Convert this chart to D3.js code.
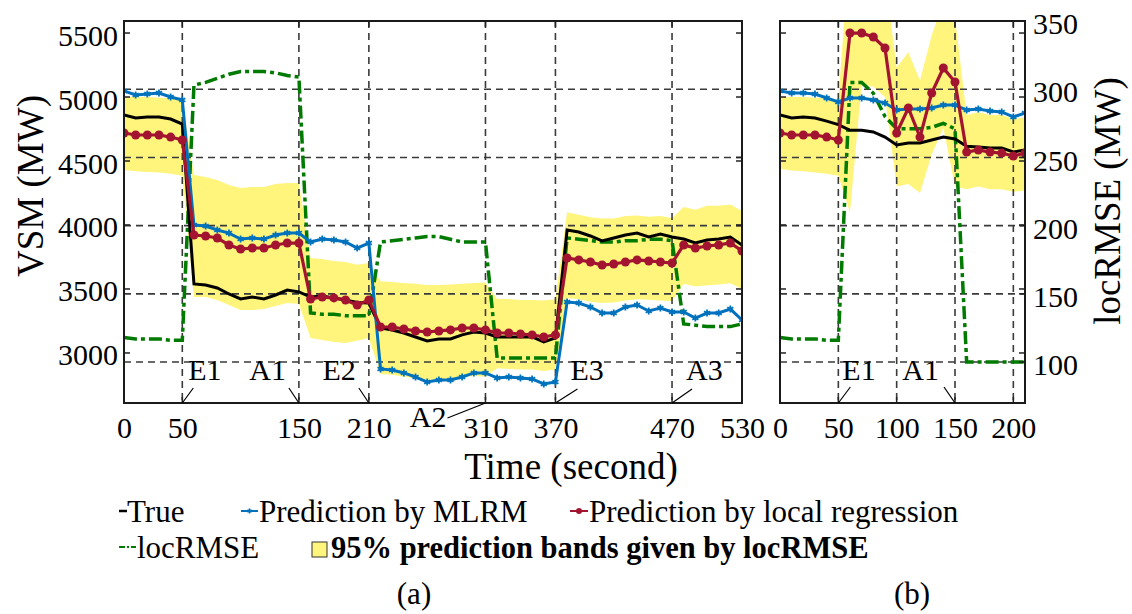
<!DOCTYPE html>
<html>
<head>
<meta charset="utf-8">
<script src="https://cdn.jsdelivr.net/npm/d3@7"></script>
<style>
  body { margin: 0; background: #fff; }
  svg text { font-family: "Liberation Serif", "Times New Roman", serif; fill: #000; }
</style>
</head>
<body>
<div id="chart"></div>
<script>
// ---- data ----
var timeA = [0,10,20,30,40,50,60,70,80,90,100,110,120,130,140,150,160,170,180,190,200,210,
  220,230,240,250,260,270,280,290,300,310,320,330,340,350,360,370,
  380,390,400,410,420,430,440,450,460,470,480,490,500,510,520,530];
var trueA = [4859,4836,4844,4844,4828,4789, 3539,3531,3508,3461,3422,3437,3422,3453,3492,3477,
  3437,3445,3430,3414,3395,3390, 3195,3180,3156,3125,3094,3109,3109,3141,3164,3156,
  3125,3125,3125,3125,3086,3117, 3961,3945,3914,3875,3898,3922,3937,3906,3930,3906,
  3890,3859,3883,3890,3906,3844];
var mlrmA = [5047,5016,5023,5031,5000,4977, 4000,3992,3961,3937,3890,3898,3890,3922,3937,3937,
  3867,3890,3883,3867,3820,3859, 2875,2867,2844,2812,2773,2789,2789,2812,2844,2844,
  2805,2812,2805,2797,2758,2773, 3398,3390,3359,3312,3312,3359,3375,3328,3351,3320,
  3320,3273,3312,3312,3343,3258];
var localA = [4719,4703,4703,4703,4687,4664, 3922,3914,3898,3844,3812,3820,3820,3844,3859,3859,
  3422,3437,3430,3414,3375,3414, 3203,3203,3187,3172,3164,3172,3180,3195,3195,3180,
  3156,3156,3148,3141,3125,3141, 3742,3727,3711,3687,3695,3711,3727,3719,3711,3703,
  3844,3820,3836,3844,3859,3797];
var rmseA = [118,117,117,117,116,116, 303,305,308,311,313,313,313,312,310,309,
  136,135,135,134,134,134, 188,189,190,191,192,192,190,188,188,188,
  103,103,103,103,103,103, 191,190,189,188,188,189,189,190,190,189,
  128,127,126,126,126,128];
var bandUpA = [5000,5000,5000,4995,4990,4980, 4390,4375,4352,4312,4289,4297,4297,4320,4328,4328,
  3742,3734,3719,3711,3690,3703, 3560,3555,3547,3540,3531,3531,3535,3540,3547,3550,
  3422,3422,3414,3414,3410,3420, 4100,4080,4060,4050,4050,4070,4075,4065,4070,4055,
  4140,4120,4150,4150,4160,4110];
var bandLoA = [4430,4420,4415,4410,4400,4385, 3437,3437,3414,3375,3336,3336,3344,3367,3390,3383,
  3117,3101,3086,3078,3095,3117, 2835,2830,2815,2800,2790,2795,2800,2810,2820,2815,
  2880,2875,2870,2870,2860,2870, 3430,3420,3400,3390,3395,3410,3420,3415,3410,3405,
  3540,3520,3530,3535,3545,3500];

var timeB = [0,10,20,30,40,50,60,70,80,90,100,110,120,130,140,150,160,170,180,190,200,210];
var trueB = [4859,4836,4844,4836,4812,4785, 4740,4740,4727,4687,4625,4641,4641,4664,4687,4672,
  4615,4610,4601,4601,4570,4586];
var mlrmB = [5047,5031,5031,5023,4992,4961, 4992,4992,4977,4953,4898,4906,4906,4914,4937,4937,
  4898,4906,4891,4883,4844,4875];
var localB = [4719,4703,4703,4703,4687,4664, 5500,5500,5469,5383,4719,4914,4687,5031,5227,5117,
  4570,4586,4570,4562,4539,4562];
var rmseB = [118,117,117,117,116,116, 305,305,297,280,271,271,271,272,275,271,
  100,100,100,100,100,100];
var bandUpB = [5000,5000,5000,4995,4990,4980, 6200,6200,6150,5950,5230,5350,5130,5480,5750,5620,
  4860,4880,4860,4860,4830,4840];
var bandLoB = [4440,4425,4420,4410,4400,4385, 4100,5100,5080,5000,4300,4320,4250,4550,4760,4300,
  4280,4300,4280,4280,4260,4270];

var xTicksA = [0,50,150,210,310,370,470,530];
var xTicksB = [0,50,100,150,200];
var vsmTicks = [3000,3500,4000,4500,5000,5500];
var rmseTicks = [100,150,200,250,300,350];
var eventNamesA = ["E1","A1","E2","A2","E3","A3"];
var eventTimesA = [50,150,210,310,370,470];
var eventNamesB = ["E1","A1"];
var eventTimesB = [50,150];

// ---- layout ----
var svgWidth = 1132, svgHeight = 614;
var plotTop = 21, plotBottom = 403;
var colors = { truth: "#000000", mlrm: "#0072BD", local: "#A2142F", rmse: "#007a00", band: "#fff47c" };

var svg = d3.select("#chart").append("svg")
  .attr("width", svgWidth)
  .attr("height", svgHeight);

var yVsm = d3.scaleLinear().domain([2609, 5594]).range([plotBottom, plotTop]);
var yRmse = d3.scaleLinear().domain([70, 350]).range([plotBottom, plotTop]);

// label offsets for the event callouts (leader end dx/dy, text x, anchor, baseline offset)
var calloutA = [
  { lx: 11, ly: -15, tx: 6, anchor: "start", ty: -23 },
  { lx: -10, ly: -15, tx: -13, anchor: "end", ty: -23 },
  { lx: -10, ly: -15, tx: -13, anchor: "end", ty: -23 },
  { lx: -38, ly: 15, tx: -39, anchor: "end", ty: 24 },
  { lx: 22, ly: -14, tx: 15, anchor: "start", ty: -23 },
  { lx: 20, ly: -14, tx: 14, anchor: "start", ty: -23 }
];
var calloutB = [
  { lx: 12, ly: -16, tx: 4, anchor: "start", ty: -23 },
  { lx: -11, ly: -16, tx: -16, anchor: "end", ty: -23 }
];

function drawPanel(id, x0, x1, domain, xTicks, t, tr, ml, lo, rm, up, dn, names, times, callout, showLeft, showRight) {
  var x = d3.scaleLinear().domain(domain).range([x0, x1]);
  var g = svg.append("g");

  svg.append("clipPath").attr("id", id)
    .append("rect").attr("x", x0).attr("y", plotTop).attr("width", x1 - x0).attr("height", plotBottom - plotTop);
  var plot = g.append("g").attr("clip-path", "url(#" + id + ")");

  // prediction band
  var bandData = t.map(function(d, i) { return { t: d, up: up[i], lo: dn[i] }; });
  plot.append("path")
    .datum(bandData)
    .attr("fill", colors.band)
    .attr("d", d3.area().x(d => x(d.t)).y0(d => yVsm(d.lo)).y1(d => yVsm(d.up)));

  // grid
  var grid = plot.append("g").attr("stroke", "#3a3a3a").attr("stroke-width", 1.6)
    .attr("stroke-dasharray", "7,5").attr("fill", "none");
  xTicks.filter(d => d > domain[0] && d < domain[1]).forEach(function(d) {
    grid.append("line").attr("x1", x(d)).attr("x2", x(d)).attr("y1", plotTop).attr("y2", plotBottom);
  });
  rmseTicks.filter(d => d < 350).forEach(function(d) {
    grid.append("line").attr("x1", x0).attr("x2", x1).attr("y1", yRmse(d)).attr("y2", yRmse(d));
  });

  // locRMSE (right axis)
  plot.append("path")
    .datum(rm)
    .attr("fill", "none").attr("stroke", colors.rmse).attr("stroke-width", 3.5)
    .attr("stroke-dasharray", "13,4,4,4")
    .attr("d", d3.line().x((d, i) => x(t[i])).y(d => yRmse(d)));

  var line = d3.line().x((d, i) => x(t[i])).y(d => yVsm(d));

  plot.append("path").datum(tr)
    .attr("fill", "none").attr("stroke", colors.truth).attr("stroke-width", 3)
    .attr("d", line);

  plot.append("path").datum(ml)
    .attr("fill", "none").attr("stroke", colors.mlrm).attr("stroke-width", 3)
    .attr("d", line);
  plot.selectAll(".mk-mlrm").data(ml).enter().append("path")
    .attr("class", "mk-mlrm")
    .attr("transform", (d, i) => "translate(" + x(t[i]) + "," + yVsm(d) + ")")
    .attr("d", d3.symbol(d3.symbolAsterisk, 34))
    .attr("fill", "none").attr("stroke", colors.mlrm).attr("stroke-width", 1.8);

  plot.append("path").datum(lo)
    .attr("fill", "none").attr("stroke", colors.local).attr("stroke-width", 3.2)
    .attr("d", line);
  plot.selectAll(".mk-local").data(lo).enter().append("circle")
    .attr("class", "mk-local")
    .attr("cx", (d, i) => x(t[i]))
    .attr("cy", d => yVsm(d))
    .attr("r", 4.5)
    .attr("fill", colors.local);

  // ticks (inward) on all edges
  var tk = g.append("g").attr("stroke", "#222").attr("stroke-width", 1.5);
  vsmTicks.forEach(function(v) {
    tk.append("line").attr("x1", x0).attr("x2", x0 + 6).attr("y1", yVsm(v)).attr("y2", yVsm(v));
    tk.append("line").attr("x1", x1).attr("x2", x1 - 6).attr("y1", yVsm(v)).attr("y2", yVsm(v));
  });
  rmseTicks.forEach(function(v) {
    tk.append("line").attr("x1", x1).attr("x2", x1 - 6).attr("y1", yRmse(v)).attr("y2", yRmse(v));
  });
  xTicks.forEach(function(v) {
    tk.append("line").attr("x1", x(v)).attr("x2", x(v)).attr("y1", plotBottom).attr("y2", plotBottom - 6);
    tk.append("line").attr("x1", x(v)).attr("x2", x(v)).attr("y1", plotTop).attr("y2", plotTop + 6);
  });

  // frame
  g.append("rect").attr("x", x0).attr("y", plotTop).attr("width", x1 - x0).attr("height", plotBottom - plotTop)
    .attr("fill", "none").attr("stroke", "#1a1a1a").attr("stroke-width", 2);

  // x tick labels
  var bottomAxis = d3.axisBottom(x).tickValues(xTicks).tickSize(0).tickPadding(14).tickFormat(d3.format("d"));
  var ax = g.append("g").attr("transform", "translate(0," + plotBottom + ")").call(bottomAxis);
  ax.select(".domain").remove();
  ax.selectAll("text").attr("font-size", 30).attr("font-family", "Liberation Serif");

  if (showLeft) {
    var leftAxis = d3.axisLeft(yVsm).tickValues(vsmTicks).tickSize(0).tickPadding(6).tickFormat(d3.format("d"));
    var la = g.append("g").attr("transform", "translate(" + x0 + ",0)").call(leftAxis);
    la.select(".domain").remove();
    la.selectAll("text").attr("font-size", 30).attr("font-family", "Liberation Serif").attr("dy", "0.4em");
  }
  if (showRight) {
    var rightAxis = d3.axisRight(yRmse).tickValues(rmseTicks).tickSize(0).tickPadding(8).tickFormat(d3.format("d"));
    var ra = g.append("g").attr("transform", "translate(" + x1 + ",0)").call(rightAxis);
    ra.select(".domain").remove();
    ra.selectAll("text").attr("font-size", 30).attr("font-family", "Liberation Serif").attr("dy", "0.42em");
  }

  // event callouts
  names.forEach(function(n, i) {
    var c = callout[i], px = x(times[i]);
    g.append("line").attr("x1", px).attr("y1", plotBottom).attr("x2", px + c.lx).attr("y2", plotBottom + c.ly)
      .attr("stroke", "#000").attr("stroke-width", 1.2);
    g.append("text").attr("x", px + c.tx).attr("y", plotBottom + c.ty)
      .attr("text-anchor", c.anchor).attr("font-size", 30).text(n);
  });
}

drawPanel("clipA", 124, 742, [0, 530], xTicksA, timeA, trueA, mlrmA, localA, rmseA, bandUpA, bandLoA,
  eventNamesA, eventTimesA, calloutA, true, false);
drawPanel("clipB", 780, 1025, [0, 210], xTicksB, timeB, trueB, mlrmB, localB, rmseB, bandUpB, bandLoB,
  eventNamesB, eventTimesB, calloutB, false, true);

// axis titles
svg.append("text")
  .attr("transform", "translate(43,186) rotate(-90)")
  .attr("text-anchor", "middle").attr("font-size", 37)
  .text("VSM (MW)");
svg.append("text")
  .attr("transform", "translate(1120,201) rotate(-90)")
  .attr("text-anchor", "middle").attr("font-size", 37)
  .text("locRMSE (MW)");
svg.append("text")
  .attr("x", 571).attr("y", 479)
  .attr("text-anchor", "middle").attr("font-size", 37)
  .text("Time (second)");

// legend
var legend = svg.append("g");
legend.append("line").attr("x1", 119).attr("x2", 127).attr("y1", 511).attr("y2", 511)
  .attr("stroke", colors.truth).attr("stroke-width", 2.5);
legend.append("text").attr("x", 127).attr("y", 522).attr("font-size", 31).text("True");

legend.append("line").attr("x1", 241).attr("x2", 258).attr("y1", 511).attr("y2", 511)
  .attr("stroke", colors.mlrm).attr("stroke-width", 2);
legend.append("path").attr("transform", "translate(249.5,511)")
  .attr("d", d3.symbol(d3.symbolAsterisk, 16)).attr("fill", "none")
  .attr("stroke", colors.mlrm).attr("stroke-width", 1.5);
legend.append("text").attr("x", 259).attr("y", 522).attr("font-size", 31).text("Prediction by MLRM");

legend.append("line").attr("x1", 570).attr("x2", 588).attr("y1", 511).attr("y2", 511)
  .attr("stroke", colors.local).attr("stroke-width", 2);
legend.append("circle").attr("cx", 579).attr("cy", 511).attr("r", 3).attr("fill", colors.local);
legend.append("text").attr("x", 589).attr("y", 522).attr("font-size", 31).text("Prediction by local regression");

legend.append("line").attr("x1", 119).attr("x2", 136).attr("y1", 547).attr("y2", 547)
  .attr("stroke", colors.rmse).attr("stroke-width", 2).attr("stroke-dasharray", "6,2,2,2");
legend.append("text").attr("x", 137).attr("y", 558).attr("font-size", 31).text("locRMSE");

legend.append("rect").attr("x", 312).attr("y", 542).attr("width", 15).attr("height", 15)
  .attr("fill", colors.band).attr("stroke", "#333").attr("stroke-width", 1);
legend.append("text").attr("x", 331).attr("y", 558).attr("font-size", 30.5).attr("font-weight", "bold")
  .text("95% prediction bands given by locRMSE");

// panel captions
svg.append("text").attr("x", 414).attr("y", 604).attr("text-anchor", "middle").attr("font-size", 31).text("(a)");
svg.append("text").attr("x", 912).attr("y", 604).attr("text-anchor", "middle").attr("font-size", 31).text("(b)");
</script>
</body>
</html>
